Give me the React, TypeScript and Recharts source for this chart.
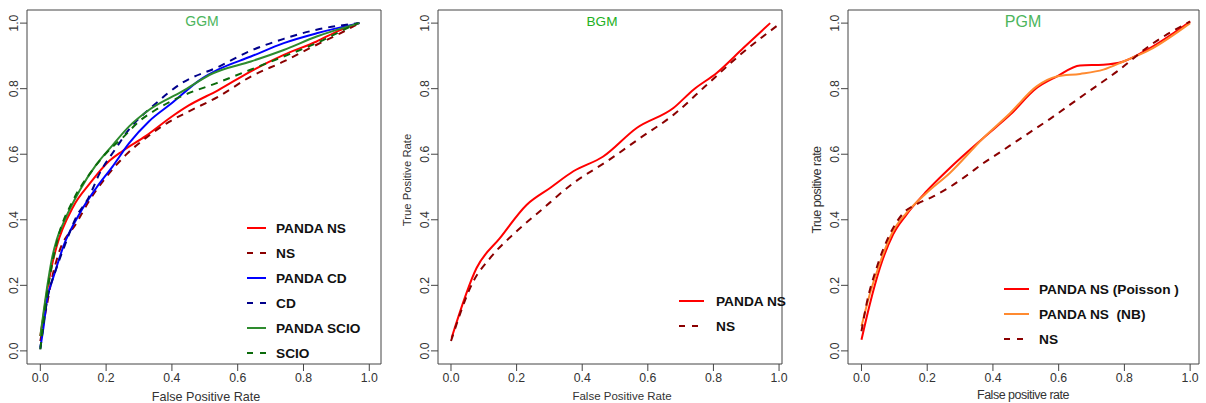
import { LineChart, Line, XAxis, YAxis, ReferenceArea } from "recharts";

const FONT = "'Liberation Sans', Arial, Helvetica, sans-serif";
const TICKS = [0, 0.2, 0.4, 0.6, 0.8, 1];
const Y_DOMAIN = [-0.04, 1.04];

// GGM panel: [false positive rate, true positive rate]
const ggmPandaNS = [[0, 0.045], [0.01, 0.11], [0.02, 0.18], [0.035, 0.26], [0.05, 0.32], [0.1, 0.44], [0.15, 0.51], [0.21, 0.58], [0.25, 0.61], [0.32, 0.655], [0.4, 0.715], [0.45, 0.748], [0.54, 0.795], [0.64, 0.853], [0.74, 0.903], [0.84, 0.944], [0.91, 0.978], [0.97, 1.0]];
const ggmNS = [[0, 0.03], [0.02, 0.14], [0.035, 0.22], [0.055, 0.295], [0.11, 0.39], [0.15, 0.46], [0.2, 0.53], [0.26, 0.598], [0.32, 0.649], [0.39, 0.698], [0.45, 0.73], [0.54, 0.775], [0.64, 0.837], [0.74, 0.883], [0.84, 0.934], [0.91, 0.968], [0.97, 1.0]];
const ggmPandaCD = [[0, 0.01], [0.01, 0.075], [0.02, 0.156], [0.035, 0.21], [0.05, 0.258], [0.07, 0.319], [0.12, 0.42], [0.17, 0.497], [0.22, 0.563], [0.27, 0.634], [0.33, 0.7], [0.4, 0.756], [0.49, 0.83], [0.54, 0.858], [0.64, 0.898], [0.74, 0.939], [0.84, 0.969], [0.97, 1.0]];
const ggmCD = [[0, 0.005], [0.02, 0.15], [0.05, 0.255], [0.07, 0.31], [0.11, 0.41], [0.146, 0.466], [0.181, 0.543], [0.227, 0.614], [0.273, 0.68], [0.34, 0.745], [0.43, 0.817], [0.54, 0.866], [0.64, 0.916], [0.74, 0.952], [0.84, 0.98], [0.97, 1.0]];
const ggmPandaSCIO = [[0, 0.045], [0.01, 0.12], [0.02, 0.19], [0.035, 0.28], [0.05, 0.34], [0.07, 0.39], [0.12, 0.49], [0.17, 0.568], [0.22, 0.628], [0.27, 0.685], [0.33, 0.735], [0.43, 0.791], [0.525, 0.847], [0.64, 0.883], [0.74, 0.918], [0.84, 0.959], [0.97, 1.0]];
const ggmSCIO = [[0, 0.005], [0.02, 0.17], [0.05, 0.33], [0.1, 0.46], [0.15, 0.54], [0.2, 0.603], [0.25, 0.65], [0.3, 0.7], [0.35, 0.735], [0.434, 0.779], [0.536, 0.817], [0.637, 0.857], [0.739, 0.898], [0.84, 0.939], [0.911, 0.974], [0.965, 1.0]];

// BGM panel
const bgmPandaNS = [[0.002, 0.04], [0.078, 0.253], [0.149, 0.344], [0.231, 0.446], [0.302, 0.497], [0.373, 0.548], [0.464, 0.593], [0.566, 0.68], [0.678, 0.741], [0.739, 0.797], [0.81, 0.848], [0.891, 0.924], [0.973, 1.0]];
const bgmNS = [[0, 0.03], [0.068, 0.212], [0.119, 0.283], [0.2, 0.365], [0.271, 0.426], [0.373, 0.512], [0.475, 0.578], [0.576, 0.649], [0.678, 0.72], [0.78, 0.812], [0.881, 0.903], [0.998, 0.995]];

// PGM panel
const pgmPoisson = [[0, 0.034], [0.025, 0.141], [0.056, 0.253], [0.096, 0.355], [0.137, 0.416], [0.198, 0.487], [0.269, 0.558], [0.37, 0.649], [0.452, 0.72], [0.533, 0.802], [0.594, 0.837], [0.665, 0.871], [0.736, 0.873], [0.797, 0.883], [0.878, 0.924], [1.0, 1.005]];
const pgmNB = [[0, 0.075], [0.025, 0.172], [0.056, 0.268], [0.096, 0.365], [0.137, 0.421], [0.198, 0.482], [0.269, 0.543], [0.37, 0.649], [0.452, 0.725], [0.533, 0.807], [0.594, 0.837], [0.665, 0.845], [0.736, 0.858], [0.797, 0.883], [0.878, 0.919], [1.0, 1.0]];
const pgmNS = [[0, 0.06], [0.015, 0.141], [0.046, 0.253], [0.086, 0.355], [0.132, 0.425], [0.167, 0.447], [0.22, 0.472], [0.269, 0.5], [0.32, 0.535], [0.37, 0.572], [0.42, 0.605], [0.472, 0.64], [0.574, 0.708], [0.675, 0.78], [0.777, 0.852], [0.878, 0.932], [1.0, 1.005]];

type Series = { name: string; color: string; dashed?: boolean; data: number[][] };

const ggmSeries: Series[] = [
  { name: "PANDA NS", color: "#ff0000", data: ggmPandaNS },
  { name: "NS", color: "#8b0000", dashed: true, data: ggmNS },
  { name: "PANDA CD", color: "#0000ff", data: ggmPandaCD },
  { name: "CD", color: "#00008b", dashed: true, data: ggmCD },
  { name: "PANDA SCIO", color: "#2e8b2e", data: ggmPandaSCIO },
  { name: "SCIO", color: "#0b6b0b", dashed: true, data: ggmSCIO },
];
const bgmSeries: Series[] = [
  { name: "PANDA NS", color: "#ff0000", data: bgmPandaNS },
  { name: "NS", color: "#8b0000", dashed: true, data: bgmNS },
];
const pgmSeries: Series[] = [
  { name: "PANDA NS (Poisson )", color: "#ff0000", data: pgmPoisson },
  { name: "PANDA NS  (NB)", color: "#ff8a30", data: pgmNB },
  { name: "NS", color: "#8b0000", dashed: true, data: pgmNS },
];

const toPoints = (d: number[][]) => d.map(([x, y]) => ({ x, y }));

function YTick({ x, y, payload }: any) {
  return (
    <text x={x} y={y} transform={`rotate(-90 ${x} ${y})`} textAnchor="middle"
      fontSize={12.3} fill="#333" fontFamily={FONT}>
      {payload.value.toFixed(1)}
    </text>
  );
}

interface PanelProps {
  left: number; width: number; yAxisWidth: number; marginRight: number;
  xDomain: number[]; series: Series[];
  title: string; titleColor: string; titleSize: number; titleX: number; titleY: number;
  xLabel: string; xLabelX: number; xLabelY: number; xLabelSize: number; xLabelSpacing?: number;
  yLabel?: string; yLabelX?: number; yLabelY?: number; yLabelSize?: number; yLabelSpacing?: number;
  legendLine: number[]; legendTextX: number; legendTop: number;
}

function Panel(p: PanelProps) {
  return (
    <div style={{ position: "absolute", left: p.left, top: 0, width: p.width, height: 403 }}>
      <LineChart width={p.width} height={403} margin={{ top: 10, right: p.marginRight, bottom: 0, left: 0 }}>
        <XAxis type="number" dataKey="x" domain={p.xDomain} allowDataOverflow ticks={TICKS}
          tickFormatter={(v: number) => v.toFixed(1)} axisLine={false} tickSize={7} tickMargin={2}
          height={39} stroke="#444" tick={{ fill: "#333", fontSize: 12.3, fontFamily: FONT }} />
        <YAxis type="number" domain={Y_DOMAIN} allowDataOverflow ticks={TICKS} axisLine={false}
          tickSize={7} tickMargin={2} width={p.yAxisWidth} stroke="#444" tick={<YTick />} />
        <ReferenceArea x1={p.xDomain[0]} x2={p.xDomain[1]} y1={Y_DOMAIN[0]} y2={Y_DOMAIN[1]}
          fill="none" stroke="#444" strokeWidth={1} />
        {p.series.map((s) => (
          <Line key={s.name} data={toPoints(s.data)} dataKey="y" type="monotone" stroke={s.color}
            strokeWidth={2} strokeDasharray={s.dashed ? "7 6" : undefined} dot={false}
            isAnimationActive={false} />
        ))}
      </LineChart>
      <svg width={p.width} height={403} style={{ position: "absolute", left: 0, top: 0, pointerEvents: "none" }}>
        <text x={p.titleX} y={p.titleY} textAnchor="middle" fontSize={p.titleSize} fill={p.titleColor}
          fontFamily={FONT}>{p.title}</text>
        <text x={p.xLabelX} y={p.xLabelY} textAnchor="middle" fontSize={p.xLabelSize} fill="#333"
          fontFamily={FONT} letterSpacing={p.xLabelSpacing ?? 0}>{p.xLabel}</text>
        {p.yLabel && (
          <text x={p.yLabelX} y={p.yLabelY} transform={`rotate(-90 ${p.yLabelX} ${p.yLabelY})`}
            textAnchor="middle" fontSize={p.yLabelSize} fill="#333" fontFamily={FONT}
            letterSpacing={p.yLabelSpacing ?? 0}>{p.yLabel}</text>
        )}
        {p.series.map((s, i) => {
          const cy = p.legendTop + i * 25;
          return (
            <g key={s.name}>
              <line x1={p.legendLine[0]} x2={p.legendLine[1]} y1={cy} y2={cy} stroke={s.color}
                strokeWidth={2} strokeDasharray={s.dashed ? "6 7" : undefined} />
              <text x={p.legendTextX} y={cy + 5} fontSize={13.7} fontWeight="bold" fill="#111"
                fontFamily={FONT} style={{ whiteSpace: "pre" }}>{s.name}</text>
            </g>
          );
        })}
      </svg>
    </div>
  );
}

export default function App() {
  return (
    <div style={{ position: "absolute", left: 0, top: 0, width: 1206, height: 403, background: "#fff" }}>
      <Panel left={0} width={400} yAxisWidth={27} marginRight={19} xDomain={[-0.0405, 1.0356]}
        series={ggmSeries} title="GGM" titleColor="#4cb55c" titleSize={14} titleX={202} titleY={26}
        xLabel="False Positive Rate" xLabelX={206} xLabelY={401} xLabelSize={12.6}
        legendLine={[247, 266]} legendTextX={276} legendTop={228} />
      <Panel left={400} width={400} yAxisWidth={38} marginRight={18} xDomain={[-0.0396, 1.009]}
        series={bgmSeries} title="BGM" titleColor="#22b022" titleSize={13.6} titleX={202} titleY={25.5}
        xLabel="False Positive Rate" xLabelX={222} xLabelY={400} xLabelSize={11.5}
        yLabel="True Positive Rate" yLabelX={10.5} yLabelY={180} yLabelSize={11.3}
        legendLine={[279, 304]} legendTextX={316} legendTop={301} />
      <Panel left={800} width={406} yAxisWidth={48} marginRight={7} xDomain={[-0.041, 1.027]}
        series={pgmSeries} title="PGM" titleColor="#4cb55c" titleSize={16} titleX={223} titleY={27}
        xLabel="False positive rate" xLabelX={223} xLabelY={399} xLabelSize={12.5} xLabelSpacing={-0.5}
        yLabel="True positive rate" yLabelX={21} yLabelY={190} yLabelSize={12.5} yLabelSpacing={-0.5}
        legendLine={[204, 229]} legendTextX={239} legendTop={289} />
    </div>
  );
}
